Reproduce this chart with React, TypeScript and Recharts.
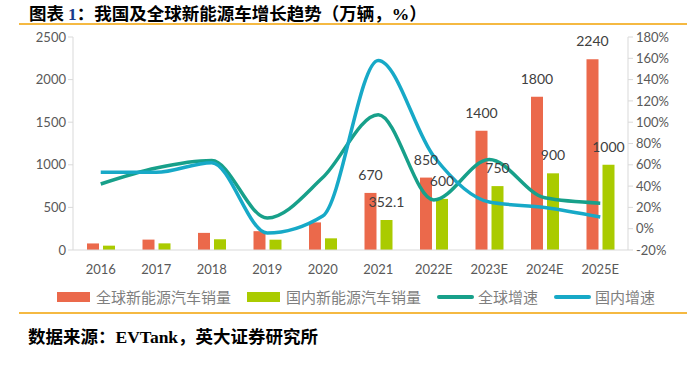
import { Bar, ComposedChart, LabelList, Line, XAxis, YAxis } from "recharts";

const years = ["2016", "2017", "2018", "2019", "2020", "2021", "2022E", "2023E", "2024E", "2025E"];
const globalSales = [77, 122, 201, 221, 324, 670, 850, 1400, 1800, 2240];
const domesticSales = [51, 78, 126, 121, 137, 352.1, 600, 750, 900, 1000];
const globalGrowth = [42, 57, 64, 10, 48, 107, 27, 65, 29, 24];
const domesticGrowth = [53, 53, 62, -4, 12, 158, 68, 25, 20, 11];
const globalLabels = [null, null, null, null, null, 670, 850, 1400, 1800, 2240];
const domesticLabels = [null, null, null, null, null, "352.1", 600, 750, 900, 1000];

const leftTicks = [0, 500, 1000, 1500, 2000, 2500];
const rightTicks = [-20, 0, 20, 40, 60, 80, 100, 120, 140, 160, 180];

const series = [
  { key: "global", name: "全球新能源汽车销量", color: "#EB694B", kind: "bar" },
  { key: "domestic", name: "国内新能源汽车销量", color: "#AACB00", kind: "bar" },
  { key: "globalGrowth", name: "全球增速", color: "#17A08A", kind: "line" },
  { key: "domesticGrowth", name: "国内增速", color: "#17A9C7", kind: "line" },
];

const data = years.map((year, i) => ({
  year,
  global: globalSales[i],
  domestic: domesticSales[i],
  globalGrowth: globalGrowth[i],
  domesticGrowth: domesticGrowth[i],
  globalLabel: globalLabels[i],
  domesticLabel: domesticLabels[i],
}));

const font = "Lato, 'Noto Sans CJK SC', sans-serif";
const axisTick = { fill: "#595959", fontSize: 13, fontFamily: font };
const labelStyle = { fill: "#404040", fontSize: 14, fontFamily: font };

function LegendRow() {
  return (
    <div
      style={{
        position: "absolute",
        left: 57,
        top: 286,
        display: "flex",
        alignItems: "center",
        fontFamily: "'Noto Sans CJK SC', sans-serif",
        fontSize: 15,
        color: "#7f7f7f",
        whiteSpace: "nowrap",
      }}
    >
      {series.map((s) => (
        <div key={s.key} style={{ display: "flex", alignItems: "center", marginRight: 16 }}>
          <span
            style={{
              display: "inline-block",
              width: s.kind === "bar" ? 33 : 37,
              height: s.kind === "bar" ? 10 : 4,
              borderRadius: s.kind === "bar" ? 0 : 2,
              background: s.color,
              marginRight: s.kind === "bar" ? 6 : 4,
            }}
          />
          <span>{s.name}</span>
        </div>
      ))}
    </div>
  );
}

export default function App() {
  return (
    <div style={{ position: "absolute", left: 0, top: 0, width: 700, height: 368, background: "#fff", overflow: "hidden" }}>
      <div
        style={{
          position: "absolute",
          left: 29,
          top: 2,
          fontFamily: "'Noto Sans CJK SC', sans-serif",
          fontWeight: 700,
          fontSize: 17.5,
          color: "#000",
          whiteSpace: "nowrap",
          lineHeight: "22px",
        }}
      >
        图表 <span style={{ fontFamily: "'Liberation Serif', serif", color: "#1a3a8a" }}>1</span>：我国及全球新能源车增长趋势（万辆，
        <span style={{ fontFamily: "'Liberation Serif', serif" }}>%</span>）
      </div>
      <div style={{ position: "absolute", left: 19, top: 23, width: 668, height: 2, background: "#F5B942" }} />

      <div style={{ position: "absolute", left: 0, top: 0 }}>
        <ComposedChart
          width={700}
          height={280}
          data={data}
          margin={{ top: 37, right: 0, bottom: 0, left: 0 }}
          barSize={12}
          barGap={4}
        >
          <XAxis
            dataKey="year"
            tick={axisTick}
            tickLine={false}
            tickSize={0}
            tickMargin={15}
            axisLine={{ stroke: "#d9d9d9" }}
            height={30}
            interval={0}
          />
          <YAxis
            yAxisId="left"
            domain={[0, 2500]}
            ticks={leftTicks}
            width={73}
            tick={axisTick}
            tickSize={5}
            tickLine={{ stroke: "#d9d9d9" }}
            axisLine={{ stroke: "#d9d9d9" }}
            interval={0}
          />
          <YAxis
            yAxisId="right"
            orientation="right"
            domain={[-20, 180]}
            ticks={rightTicks}
            width={72}
            tick={axisTick}
            tickSize={5}
            tickMargin={3}
            tickLine={{ stroke: "#d9d9d9" }}
            axisLine={{ stroke: "#d9d9d9" }}
            tickFormatter={(v) => `${v}%`}
            interval={0}
          />
          <Bar yAxisId="left" dataKey="global" fill={series[0].color} isAnimationActive={false}>
            <LabelList dataKey="globalLabel" position="top" offset={13} style={labelStyle} />
          </Bar>
          <Bar yAxisId="left" dataKey="domestic" fill={series[1].color} isAnimationActive={false}>
            <LabelList dataKey="domesticLabel" position="top" offset={13} style={labelStyle} />
          </Bar>
          <Line
            yAxisId="right"
            type="monotone"
            dataKey="globalGrowth"
            stroke={series[2].color}
            strokeWidth={3.5}
            dot={false}
            isAnimationActive={false}
          />
          <Line
            yAxisId="right"
            type="monotone"
            dataKey="domesticGrowth"
            stroke={series[3].color}
            strokeWidth={3.5}
            dot={false}
            isAnimationActive={false}
          />
        </ComposedChart>
      </div>

      <LegendRow />
      <div style={{ position: "absolute", left: 19, top: 312, width: 668, height: 2, background: "#F5B942" }} />
      <div
        style={{
          position: "absolute",
          left: 28,
          top: 325,
          fontFamily: "'Noto Sans CJK SC', sans-serif",
          fontWeight: 700,
          fontSize: 17.5,
          color: "#000",
          whiteSpace: "nowrap",
          lineHeight: "22px",
        }}
      >
        数据来源：<span style={{ fontFamily: "'Liberation Serif', serif" }}>EVTank</span>，英大证券研究所
      </div>
    </div>
  );
}
